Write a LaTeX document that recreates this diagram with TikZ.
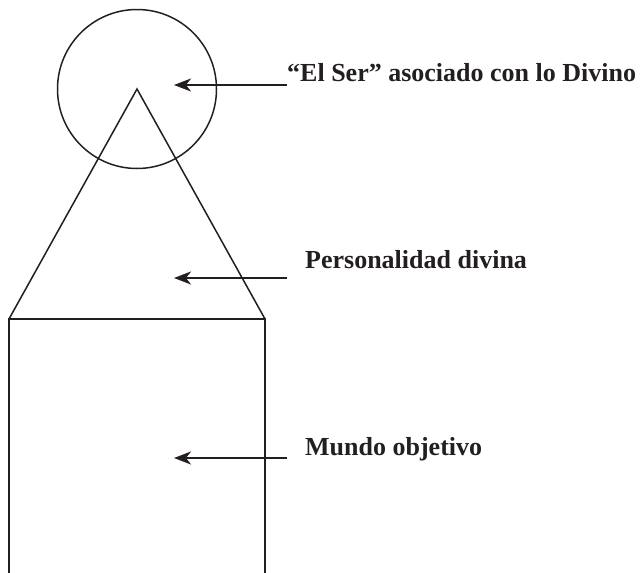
\documentclass[tikz,border=0pt]{standalone}
\usepackage{fontspec}
\setmainfont{Liberation Serif}
\usetikzlibrary{arrows.meta}
\definecolor{ink}{HTML}{231F20}
\begin{document}
\begin{tikzpicture}[x=1pt,y=-1pt,
  shape line/.style={line width=1.5pt, draw=ink},
  pointer/.style={line width=2.1pt, draw=ink, -{Stealth[length=17pt,width=13pt,inset=5pt]}},
  label text/.style={anchor=base west, inner sep=0pt, font=\fontsize{26}{30}\selectfont\bfseries, text=ink}]
\useasboundingbox (0,0) rectangle (643,573);
% shapes
\coordinate (apex) at (137,89);
\coordinate (bl) at (9,319);
\coordinate (br) at (265,319);
\coordinate (bbl) at (9,573);
\coordinate (bbr) at (265,573);
\draw[shape line] (apex) circle[radius=79.5];
\draw[shape line] (bl) -- (apex) -- (br);
\draw[shape line] (bbl) -- (bl) -- (br) -- (bbr);
% labels
\node[label text] (l1) at (287,81) {“El Ser” asociado con lo Divino};
\node[label text] (l2) at (305,268) {Personalidad divina};
\node[label text] (l3) at (305,455) {Mundo objetivo};
% arrows
\coordinate (s1) at (287,85); \coordinate (t1) at (174,85);
\coordinate (s2) at (287,278); \coordinate (t2) at (174,278);
\coordinate (s3) at (287,458); \coordinate (t3) at (174,458);
\draw[pointer] (s1) -- (t1);
\draw[pointer] (s2) -- (t2);
\draw[pointer] (s3) -- (t3);
\end{tikzpicture}
\end{document}
